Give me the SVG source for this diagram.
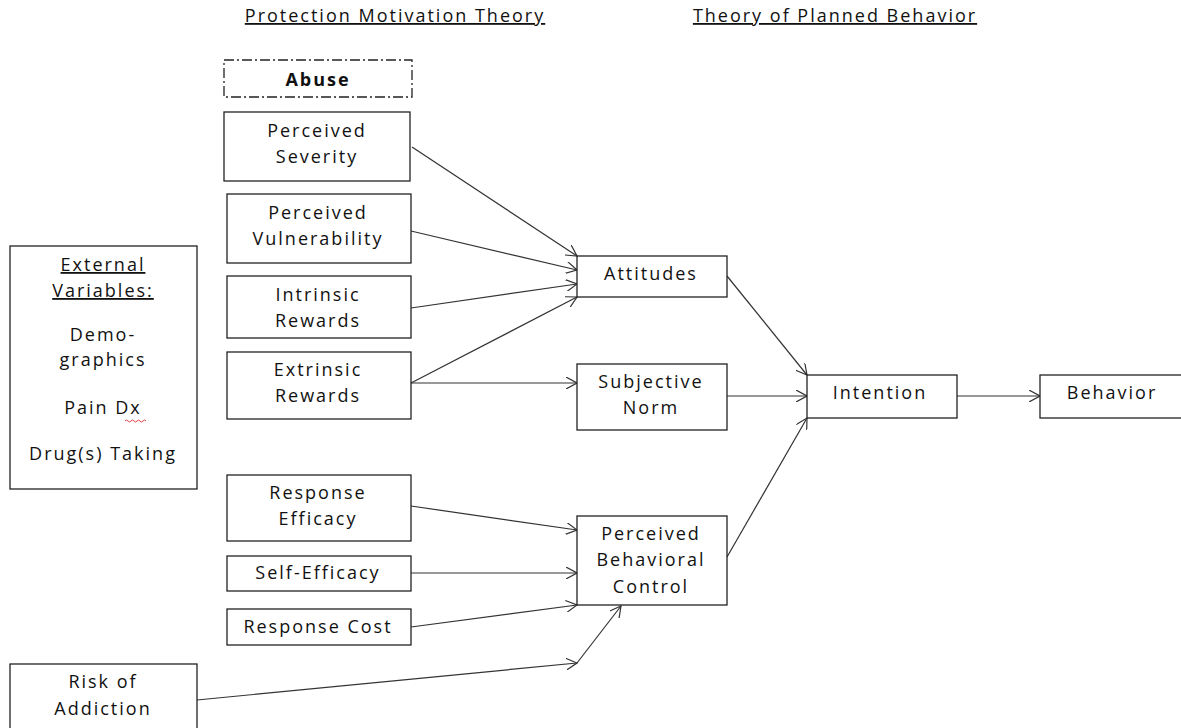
<svg xmlns="http://www.w3.org/2000/svg" width="1181" height="728" viewBox="0 0 1181 728">
<style>
text{font-family:"Open Sans",Lato,"Liberation Sans",sans-serif;font-size:18px;letter-spacing:2px;fill:#111;text-anchor:middle}
.box{fill:#fff;stroke:#222;stroke-width:1.3}
.hd{text-decoration:underline}
.c line{stroke:#333;stroke-width:1.2;marker-end:url(#ah)}
</style>
<defs>
<marker id="ah" viewBox="0 0 12 12" refX="11" refY="6" markerWidth="12" markerHeight="12" markerUnits="userSpaceOnUse" orient="auto">
<path d="M0,0 L11,6 L0,12" fill="none" stroke="#333" stroke-width="1.2"/>
</marker>
</defs>
<rect width="1181" height="728" fill="#fff"/>
<text x="395" y="22" class="hd">Protection Motivation Theory</text>
<text x="835" y="22" class="hd">Theory of Planned Behavior</text>

<g id="connectors" class="c">
<line x1="412" y1="147" x2="577" y2="256"/>
<line x1="411" y1="231" x2="577" y2="270"/>
<line x1="411" y1="308" x2="577" y2="284"/>
<line x1="411" y1="383" x2="577" y2="297"/>
<line x1="411" y1="383" x2="577" y2="383"/>
<line x1="727" y1="276" x2="807" y2="375"/>
<line x1="727" y1="396" x2="807" y2="396"/>
<line x1="727" y1="557" x2="807" y2="418"/>
<line x1="957" y1="396" x2="1040" y2="396"/>
<line x1="411" y1="506" x2="577" y2="530"/>
<line x1="411" y1="573" x2="577" y2="573"/>
<line x1="411" y1="627" x2="577" y2="605"/>
<line x1="197" y1="700" x2="577" y2="663"/>
<line x1="577" y1="663" x2="621" y2="606"/>
</g>

<g id="abuse"><rect class="box" x="224" y="60" width="188" height="37" stroke-dasharray="10,3,2,3"/><text x="318" y="86" font-weight="bold" letter-spacing="1">Abuse</text></g>
<g id="severity"><rect class="box" x="224" y="112" width="186" height="69"/><text x="317" y="137">Perceived</text><text x="317" y="163">Severity</text></g>
<g id="vulnerability"><rect class="box" x="227" y="194" width="184" height="69"/><text x="318" y="219">Perceived</text><text x="318" y="245">Vulnerability</text></g>
<g id="intrinsic"><rect class="box" x="227" y="276" width="184" height="62"/><text x="318" y="301">Intrinsic</text><text x="318" y="327">Rewards</text></g>
<g id="extrinsic"><rect class="box" x="227" y="352" width="184" height="67"/><text x="318" y="376">Extrinsic</text><text x="318" y="402">Rewards</text></g>
<g id="external"><rect class="box" x="10" y="246" width="187" height="243"/>
<text x="103" y="271" class="hd">External</text><text x="103" y="297" class="hd">Variables:</text>
<text x="103" y="341">Demo-</text><text x="103" y="366">graphics</text>
<text x="103" y="414">Pain Dx</text>
<path d="M125,421 q1.5,-2 3,0 t3,0 t3,0 t3,0 t3,0 t3,0 t3,0" fill="none" stroke="#e03030" stroke-width="0.9"/>
<text x="103" y="460">Drug(s) Taking</text></g>
<g id="attitudes"><rect class="box" x="577" y="256" width="150" height="41"/><text x="651" y="280">Attitudes</text></g>
<g id="subjective"><rect class="box" x="577" y="364" width="150" height="66"/><text x="651" y="388">Subjective</text><text x="651" y="414">Norm</text></g>
<g id="pbc"><rect class="box" x="577" y="516" width="150" height="89"/><text x="651" y="540">Perceived</text><text x="651" y="566">Behavioral</text><text x="651" y="593">Control</text></g>
<g id="intention"><rect class="box" x="807" y="375" width="150" height="43"/><text x="880" y="399">Intention</text></g>
<g id="behavior"><rect class="box" x="1040" y="375" width="145" height="43"/><text x="1112" y="399">Behavior</text></g>
<g id="response-efficacy"><rect class="box" x="227" y="475" width="184" height="66"/><text x="318" y="499">Response</text><text x="318" y="525">Efficacy</text></g>
<g id="self-efficacy"><rect class="box" x="227" y="556" width="184" height="35"/><text x="318" y="579">Self-Efficacy</text></g>
<g id="response-cost"><rect class="box" x="227" y="609" width="184" height="36"/><text x="318" y="633">Response Cost</text></g>
<g id="risk"><rect class="box" x="10" y="664" width="187" height="70"/><text x="103" y="688">Risk of</text><text x="103" y="715">Addiction</text></g>
</svg>
